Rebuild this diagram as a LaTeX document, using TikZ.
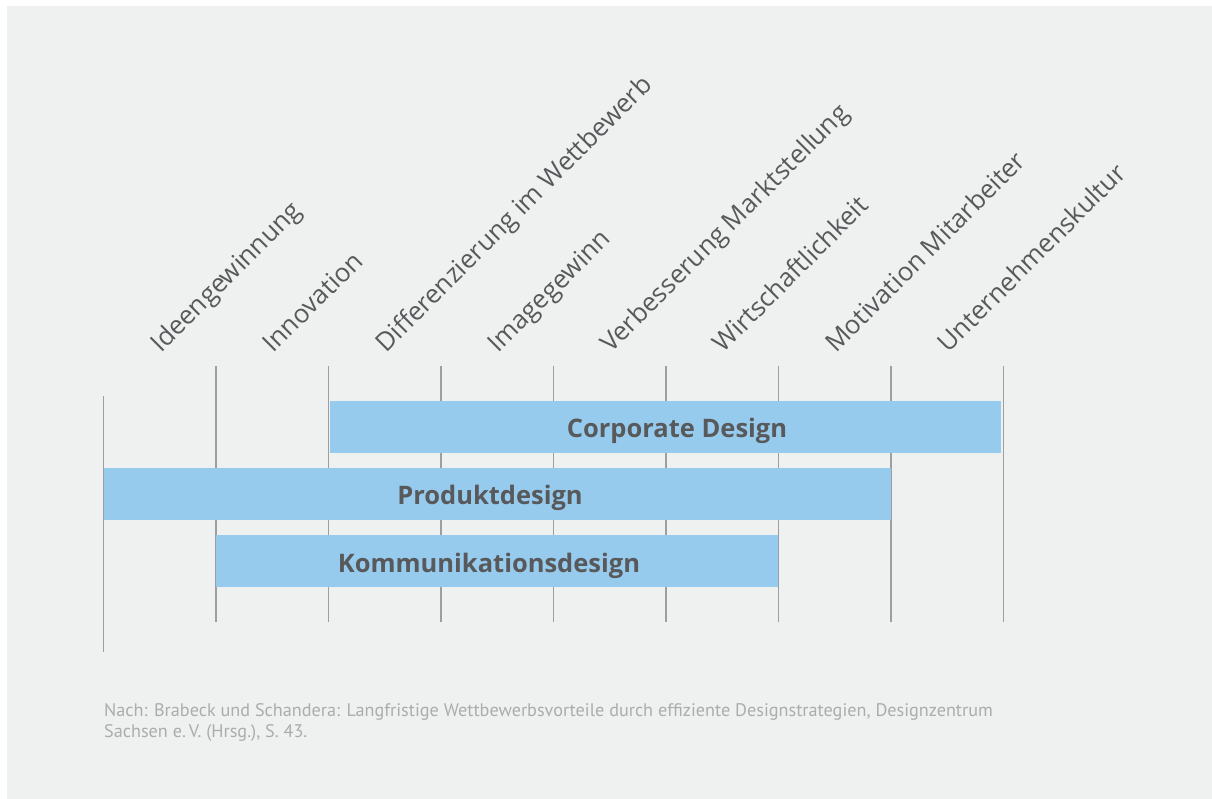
\documentclass[tikz,border=0pt]{standalone}
\usepackage{fontspec}
\setmainfont{Open Sans}
\newfontfamily\notefont{PT Sans}
\usepackage{xcolor}
\definecolor{panelgrey}{RGB}{239,240,240}
\definecolor{barblue}{RGB}{151,203,238}
\definecolor{labelgrey}{RGB}{88,89,91}
\definecolor{rulegrey}{RGB}{155,158,163}
\definecolor{notegrey}{RGB}{171,172,172}

\begin{document}
\begin{tikzpicture}[x=1pt, y=-1pt,
    rule/.style={draw=rulegrey, line width=1.4pt},
    bar/.style={rectangle, fill=barblue, inner sep=0pt, minimum height=52pt},
    barlabel/.style={font=\fontsize{25.5}{30}\selectfont\bfseries, text=labelgrey},
    goal/.style={font=\fontsize{25.8}{30}\selectfont, text=labelgrey, rotate=45,
                 anchor=base west, inner sep=0pt},
    note/.style={font=\notefont\fontsize{18.2}{21}\selectfont, text=notegrey,
                 anchor=north west, align=left, inner sep=0pt}
]
    % panel
    \useasboundingbox (0,0) rectangle (1212,799);
    \fill[white] (0,0) rectangle (1212,799);
    \fill[panelgrey] (7,6) rectangle (1212,799);

    % column rules
    \draw[rule] (103.5,396) -- (103.5,652);
    \draw[rule] (216,366) -- (216,622);
    \draw[rule] (328.5,366) -- (328.5,622);
    \draw[rule] (441,366) -- (441,622);
    \draw[rule] (553.5,366) -- (553.5,622);
    \draw[rule] (666,366) -- (666,622);
    \draw[rule] (778.5,366) -- (778.5,622);
    \draw[rule] (891,366) -- (891,622);
    \draw[rule] (1003.5,366) -- (1003.5,622);

    % goals, one per column
    \node[goal] (ideen)  at (161,354) {Ideengewinnung};
    \node[goal] (innov)  at (273.5,354) {Innovation};
    \node[goal] (diff)   at (386,354) {Differenzierung im Wettbewerb};
    \node[goal] (image)  at (498.5,354) {Imagegewinn};
    \node[goal] (markt)  at (611,354) {Verbesserung Marktstellung};
    \node[goal] (wirt)   at (723.5,354) {Wirtschaftlichkeit};
    \node[goal] (motiv)  at (836,354) {Motivation Mitarbeiter};
    \node[goal] (kultur) at (948.5,354) {Unternehmenskultur};

    % design disciplines
    \node[bar, minimum width=671pt] (cd) at (665.5,427) {};
    \node[barlabel] (cdtext) at (677,431) {Corporate Design};

    \node[bar, minimum width=787pt] (pd) at (497.5,494) {};
    \node[barlabel] (pdtext) at (490,498) {Produktdesign};

    \node[bar, minimum width=562pt] (kd) at (497,561) {};
    \node[barlabel] (kdtext) at (489,566) {Kommunikationsdesign};

    % source
    \node[note] (src) at (104,703) {Nach: Brabeck und Schandera: Langfristige Wettbewerbsvorteile durch effiziente Designstrategien, Designzentrum\\
        Sachsen e.\,V. (Hrsg.), S. 43.};
\end{tikzpicture}
\end{document}
